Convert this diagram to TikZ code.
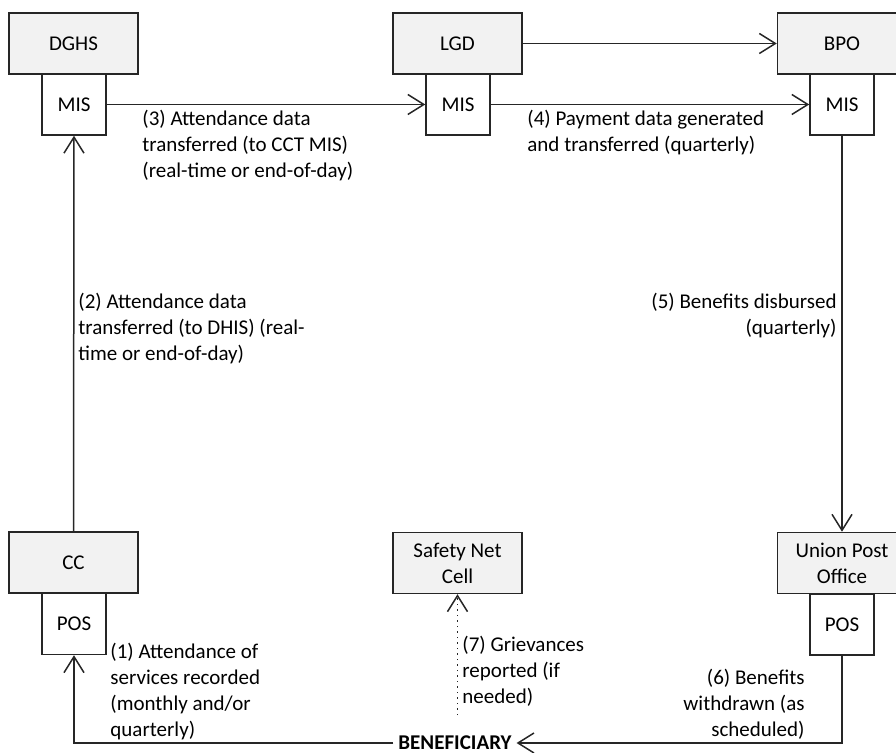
\documentclass[tikz,border=0pt]{standalone}
\usepackage{fontspec}
\setmainfont{Carlito}
\usetikzlibrary{arrows.meta}

\tikzset{
  agency/.style={draw=black!85,fill=gray!10,line width=0.75pt,minimum width=64.5pt,minimum height=30.5pt,inner sep=1pt,align=center},
  system/.style={draw=black!85,fill=white,line width=0.75pt,minimum width=32pt,minimum height=30.5pt,inner sep=1pt},
  flow/.style={draw=black!85,line width=0.75pt},
  steptext/.style={inner sep=0pt,align=left}
}

\begin{document}
\begin{tikzpicture}[x=0.5pt,y=-0.5pt,>={Straight Barb[length=8pt,width=10pt]},font=\fontsize{10.5}{13}\selectfont]
\clip (0,0) rectangle (896,753);
% boxes
\node[agency] (dghs) at (73.5,43.5) {DGHS};
\node[system] (mis1) at (74,104.5) {MIS};
\node[agency] (lgd) at (457.5,43.5) {LGD};
\node[system] (mis2) at (458,104.5) {MIS};
\node[agency] (bpo) at (842,43.5) {BPO};
\node[system] (mis3) at (842,104.5) {MIS};
\node[agency] (cc) at (73.5,562.5) {CC};
\node[system] (pos1) at (74,624) {POS};
\node[agency] (snc) at (457.5,563) {Safety Net\\Cell};
\node[agency] (upo) at (842,563) {Union Post\\Office};
\node[system] (pos2) at (842,624.5) {POS};
\node[inner xsep=2.5pt,inner ysep=0.5pt,outer sep=0pt,font=\fontsize{10.5}{13}\selectfont\bfseries] (ben) at (455,743) {BENEFICIARY};
% connectors
\draw[flow,->] (cc.north) -- (mis1.south);
\draw[flow,->] (mis1) -- (mis2);
\draw[flow,->] (mis2) -- (mis3);
\draw[flow,->] (lgd) -- (bpo);
\draw[flow,->] (mis3.south) -- (upo.north);
\draw[flow,->] (ben.west) -| (pos1.south);
\draw[flow,->] (pos2.south) |- (ben.east);
\draw[flow,dotted,->,shorten <=10pt] (ben.north -| snc.south) -- (snc.south);
% step labels
\node[steptext,anchor=west] (s1) at (110,691.5) {(1) Attendance of\\services recorded\\(monthly and/or\\quarterly)};
\node[steptext,anchor=west] (s2) at (78,329) {(2) Attendance data\\transferred (to DHIS) (real-\\time or end-of-day)};
\node[steptext,anchor=west] (s3) at (142,146) {(3) Attendance data\\transferred (to CCT MIS)\\(real-time or end-of-day)};
\node[steptext,anchor=west] (s4) at (527,133) {(4) Payment data generated\\and transferred (quarterly)};
\node[steptext,anchor=east,align=right] (s5) at (837,316) {(5) Benefits disbursed\\(quarterly)};
\node[steptext,anchor=east,align=right] (s6) at (805,704.5) {(6) Benefits\\withdrawn (as\\scheduled)};
\node[steptext,anchor=west] (s7) at (462,671.5) {(7) Grievances\\reported (if\\needed)};
\end{tikzpicture}
\end{document}
